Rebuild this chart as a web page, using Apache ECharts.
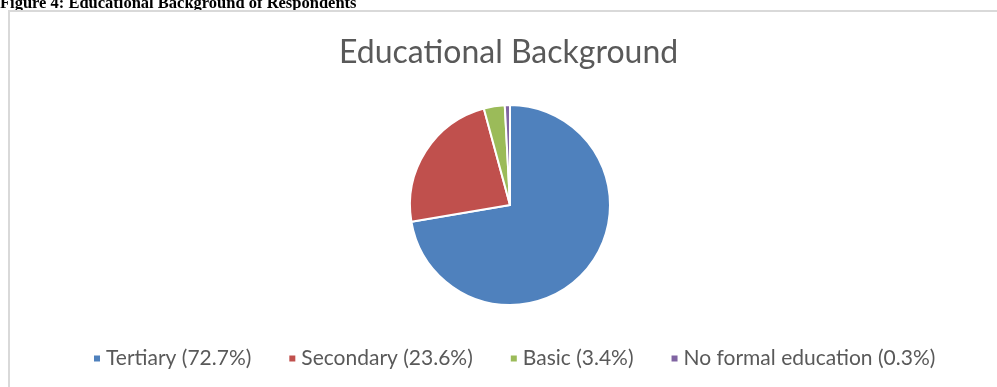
<!DOCTYPE html>
<html>
<head>
<meta charset="utf-8">
<script src="https://cdn.jsdelivr.net/npm/echarts@6/dist/echarts.min.js"></script>
<style>
  html, body { margin: 0; padding: 0; background: #fff; }
  #main { width: 997px; height: 387px; }
</style>
</head>
<body>
<div id="main"></div>
<script>
// education levels and their shares (%)
var levels = ['Tertiary', 'Secondary', 'Basic', 'No formal education'];
var shares = [72.7, 23.6, 3.4, 0.3];
var colors = ['#4F81BD', '#C0504D', '#9BBB59', '#8064A2'];

var chart = echarts.init(document.getElementById('main'));

var pieData = levels.map(function (name, i) {
  return { name: name, value: shares[i], itemStyle: { color: colors[i] } };
});

var option = {
  animation: false,
  title: {
    text: 'Educational Background',
    left: 334,
    top: 32,
    textStyle: {
      fontFamily: 'Lato',
      fontSize: 32,
      fontWeight: 'normal',
      color: '#595959'
    }
  },
  legend: {
    top: 343,
    left: 87,
    icon: 'rect',
    itemWidth: 8,
    itemHeight: 8,
    itemGap: 36,
    selectedMode: false,
    textStyle: {
      fontFamily: 'Lato',
      fontSize: 21,
      color: '#595959'
    },
    formatter: function (name) {
      var i = levels.indexOf(name);
      return name + ' (' + shares[i] + '%)';
    },
    data: levels
  },
  graphic: [
    {
      type: 'text',
      left: 0,
      top: -5,
      style: {
        text: 'Figure 4: Educational Background of Respondents',
        font: 'bold 16.5px "Liberation Serif"',
        fill: '#000'
      }
    },
    {
      type: 'polyline',
      shape: { points: [[9, 387], [9, 11], [997, 11]] },
      style: { stroke: '#d9d9d9', lineWidth: 2, fill: null }
    }
  ],
  series: [
    {
      name: 'Educational Background',
      type: 'pie',
      center: [510, 205],
      radius: 100,
      startAngle: 90,
      clockwise: true,
      minAngle: 3,
      label: { show: false },
      labelLine: { show: false },
      itemStyle: { borderColor: '#fff', borderWidth: 2 },
      emphasis: { disabled: true },
      data: pieData
    }
  ]
};

chart.setOption(option);
</script>
</body>
</html>
